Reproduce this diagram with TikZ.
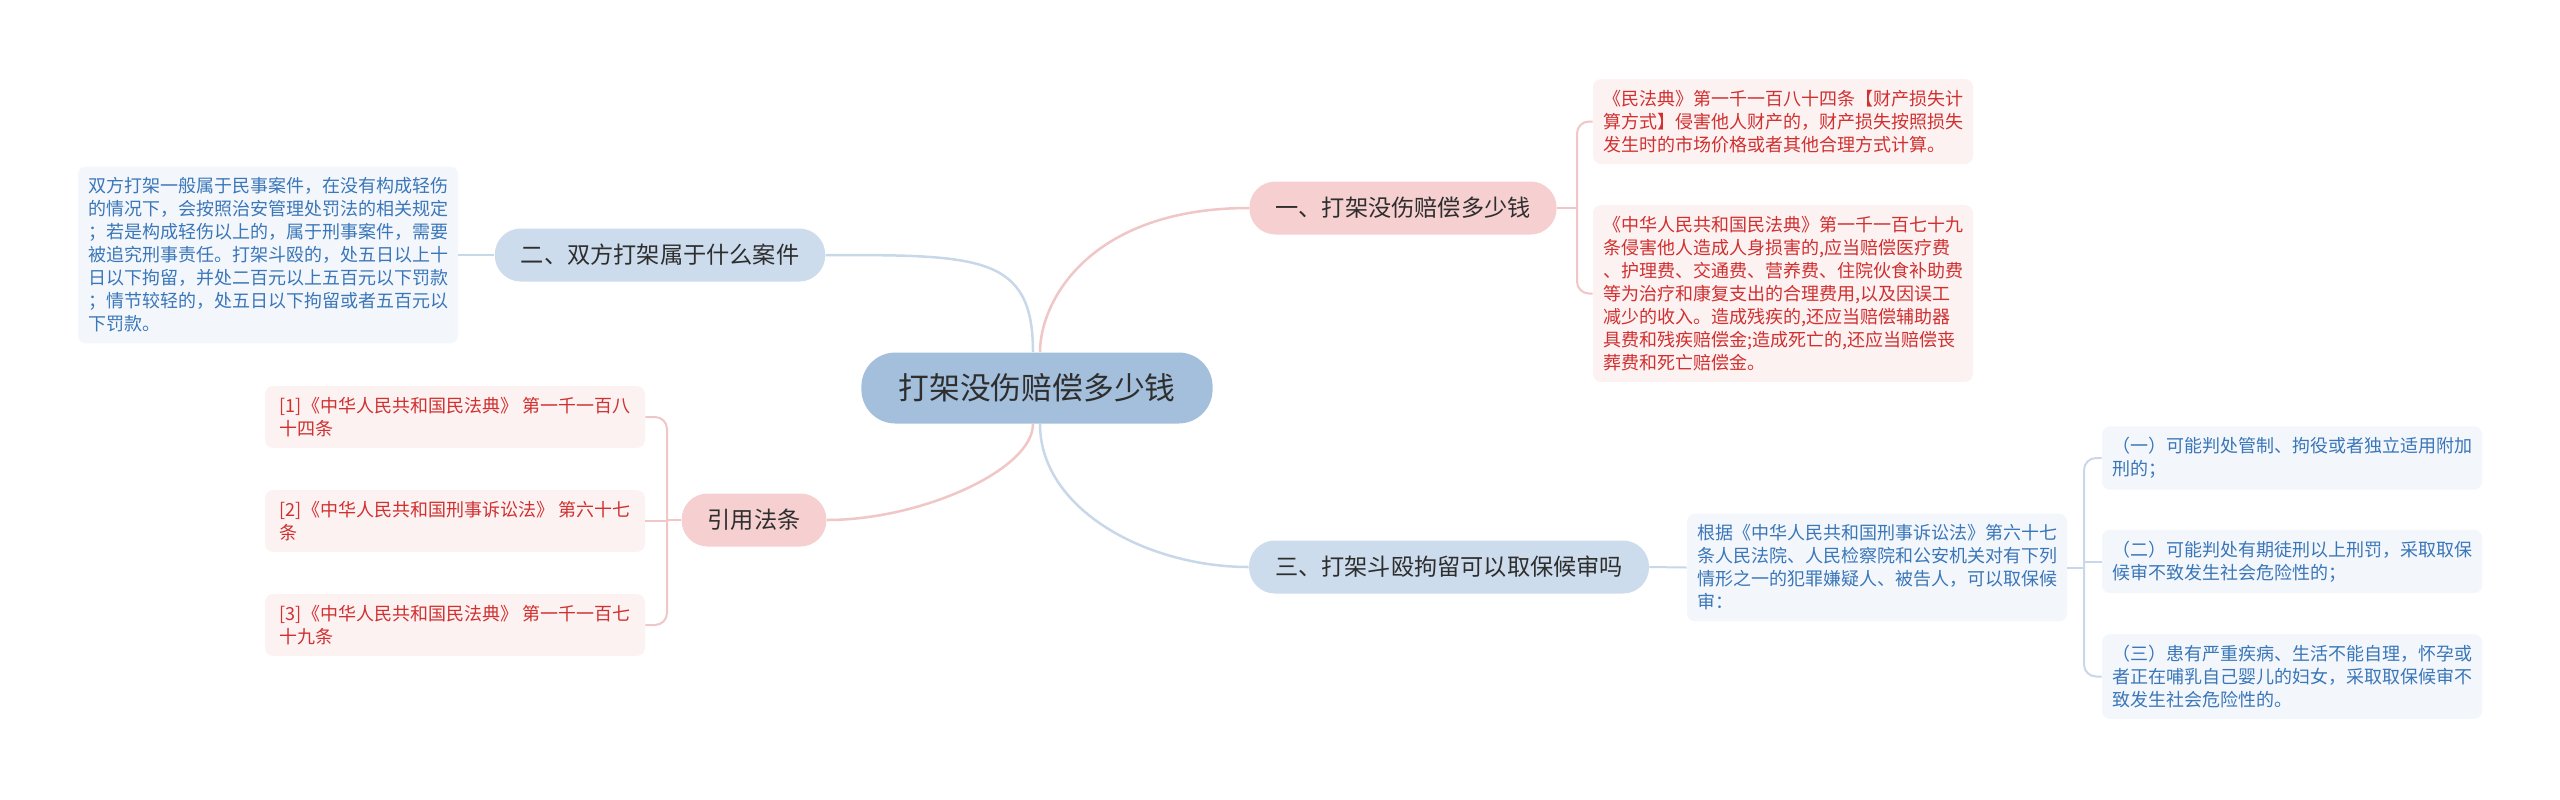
\documentclass[tikz,border=0pt]{standalone}
\usepackage{fontspec}
\setmainfont{Noto Sans CJK SC}
\usetikzlibrary{calc}
\definecolor{cfill}{HTML}{A3BFDC}
\definecolor{bpinkfill}{HTML}{F6D0D0}
\definecolor{bbluefill}{HTML}{CCDCEC}
\definecolor{lpinkfill}{HTML}{FDF2F2}
\definecolor{lbluefill}{HTML}{F3F7FC}
\definecolor{pinkline}{HTML}{F0C6C6}
\definecolor{blueline}{HTML}{C8D8E8}
\definecolor{redtext}{HTML}{D03030}
\definecolor{bluetext}{HTML}{3A76B8}
\definecolor{darktext}{HTML}{2E2E2E}
\begin{document}
\begin{tikzpicture}[x=0.5pt,y=-0.5pt,
  central/.style={fill=cfill, text=darktext, rounded corners=17pt, minimum height=35.5pt, inner xsep=18.5pt, font={\fontsize{15.4pt}{18pt}\selectfont}},
  bpink/.style={fill=bpinkfill, text=darktext, rounded corners=13pt, minimum height=26.5pt, inner xsep=13pt, font={\fontsize{11.6pt}{14pt}\selectfont}},
  bblue/.style={fill=bbluefill, text=darktext, rounded corners=13pt, minimum height=26.5pt, inner xsep=13pt, font={\fontsize{11.6pt}{14pt}\selectfont}},
  lred/.style={fill=lpinkfill, text=redtext, rounded corners=4pt, align=left, minimum width=190pt, inner xsep=4pt, inner ysep=5.5pt, font={\fontsize{9pt}{11.5pt}\selectfont}},
  lblue/.style={fill=lbluefill, text=bluetext, rounded corners=4pt, align=left, minimum width=190pt, inner xsep=4pt, inner ysep=5.5pt, font={\fontsize{9pt}{11.5pt}\selectfont}},
  pl/.style={draw=pinkline, line width=1.25pt},
  bl/.style={draw=blueline, line width=1.25pt},
  pb/.style={draw=pinkline, line width=1pt, rounded corners=6pt},
  bb/.style={draw=blueline, line width=1pt, rounded corners=6pt}
]
\fill[white] (0,0) rectangle (2560,799);
\useasboundingbox (0,0) rectangle (2560,799);

% main nodes
\node[central] (c) at (1037,388) {打架没伤赔偿多少钱};
\node[bpink] (b1) at (1403,208) {一、打架没伤赔偿多少钱};
\node[bblue] (b2) at (660,255) {二、双方打架属于什么案件};
\node[bblue] (b3) at (1449,567) {三、打架斗殴拘留可以取保候审吗};
\node[bpink] (b4) at (754,520) {引用法条};

% leaves
\node[lblue] (l2) at (268,255) {双方打架一般属于民事案件，在没有构成轻伤\\的情况下，会按照治安管理处罚法的相关规定\\；若是构成轻伤以上的，属于刑事案件，需要\\被追究刑事责任。打架斗殴的，处五日以上十\\日以下拘留，并处二百元以上五百元以下罚款\\；情节较轻的，处五日以下拘留或者五百元以\\下罚款。};

\node[lred] (r1) at (455,417) {[1]《中华人民共和国民法典》 第一千一百八\\十四条};
\node[lred] (r2) at (455,521) {[2]《中华人民共和国刑事诉讼法》 第六十七\\条};
\node[lred] (r3) at (455,625) {[3]《中华人民共和国民法典》 第一千一百七\\十九条};

\node[lred] (a1) at (1783,121.5) {《民法典》第一千一百八十四条【财产损失计\\算方式】侵害他人财产的，财产损失按照损失\\发生时的市场价格或者其他合理方式计算。};
\node[lred] (a2) at (1783,293.5) {《中华人民共和国民法典》第一千一百七十九\\条侵害他人造成人身损害的,应当赔偿医疗费\\、护理费、交通费、营养费、住院伙食补助费\\等为治疗和康复支出的合理费用,以及因误工\\减少的收入。造成残疾的,还应当赔偿辅助器\\具费和残疾赔偿金;造成死亡的,还应当赔偿丧\\葬费和死亡赔偿金。};

\node[lblue] (l3) at (1877,567.5) {根据《中华人民共和国刑事诉讼法》第六十七\\条人民法院、人民检察院和公安机关对有下列\\情形之一的犯罪嫌疑人、被告人，可以取保候\\审：};

\node[lblue] (s1) at (2292,458) {（一）可能判处管制、拘役或者独立适用附加\\刑的；};
\node[lblue] (s2) at (2292,561.5) {（二）可能判处有期徒刑以上刑罚，采取取保\\候审不致发生社会危险性的；};
\node[lblue] (s3) at (2292,676.5) {（三）患有严重疾病、生活不能自理，怀孕或\\者正在哺乳自己婴儿的妇女，采取取保候审不\\致发生社会危险性的。};

% central connectors
\draw[pl] ([xshift=1.5pt]c.north) .. controls +(0,-52) and +(-158,0) .. (b1.west);
\draw[bl] ([xshift=-2pt]c.north) .. controls +(0,-97) and +(154,0) .. (b2.east);
\draw[pl] ([xshift=-2pt]c.south) .. controls +(0,46) and +(94,0) .. (b4.east);
\draw[bl] ([xshift=1.5pt]c.south) .. controls +(0,86) and +(-101,0) .. (b3.west);

% branch 1 bracket
\coordinate (k1) at (1577,208);
\draw[pl,line width=1pt] (b1.east) -- (k1);
\draw[pb] (a1.west) -| (k1) |- (a2.west);

% branch 2
\draw[bl,line width=1pt] (b2.west) -- (l2.east);

% branch 4 bracket
\coordinate (k4) at (667,520);
\draw[pl,line width=1pt] (b4.west) -- (k4);
\draw[pb] (r1.east) -| (k4) |- (r3.east);
\draw[pl,line width=1pt] (r2.east) -- (r2.east -| k4);

% branch 3
\draw[bl,line width=1pt] (b3.east) -- (l3.west);
\coordinate (k3) at (2084,567.5);
\draw[bl,line width=1pt] (l3.east) -- (k3);
\draw[bb] (s1.west) -| (k3) |- (s3.west);
\draw[bl,line width=1pt] (s2.west) -- (s2.west -| k3);
\end{tikzpicture}
\end{document}
